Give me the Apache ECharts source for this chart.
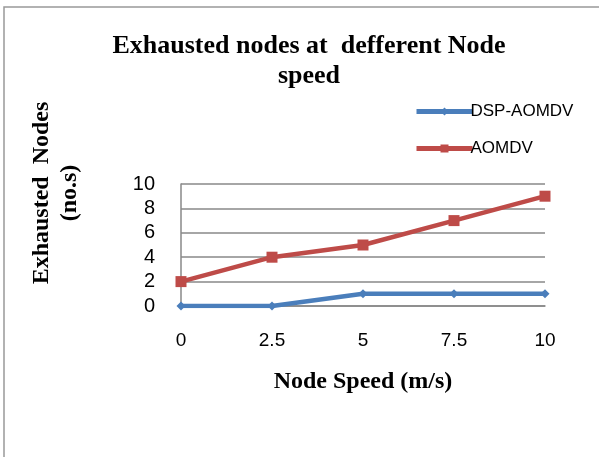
<!DOCTYPE html>
<html><head><meta charset="utf-8">
<script src="https://cdn.jsdelivr.net/npm/echarts@6/dist/echarts.min.js"></script>
<style>html,body{margin:0;padding:0;background:#fff}#c{width:599px;height:457px}</style>
</head><body><div id="c"></div>
<script>
var categories = ['0', '2.5', '5', '7.5', '10'];
var dspAomdv = [0, 0, 1, 1, 1];
var aomdv = [2, 4, 5, 7, 9];
var yTicks = [0, 2, 4, 6, 8, 10];

var chart = echarts.init(document.getElementById('c'));
chart.setOption({
  animation: false,
  backgroundColor: '#fff',
  title: {
    text: 'Exhausted nodes at  defferent Node\nspeed',
    left: 304, top: 26, textAlign: 'center',
    textStyle: {fontFamily: 'Liberation Serif', fontWeight: 'bold', fontSize: 26, lineHeight: 30, color: '#000'}
  },
  legend: {
    orient: 'vertical', left: 409, top: 98, itemWidth: 56, itemHeight: 10, itemGap: 20,
    lineStyle: {width: 5},
    textStyle: {fontFamily: 'Liberation Sans', fontSize: 17, color: '#000', padding: [0,0,0,-7]},
    data: ['DSP-AOMDV', 'AOMDV']
  },
  grid: {left: 181, right: 54, top: 184, bottom: 151},
  xAxis: {
    type: 'category', data: categories, boundaryGap: false,
    name: 'Node Speed (m/s)', nameLocation: 'middle', nameGap: 64,
    nameTextStyle: {fontFamily: 'Liberation Serif', fontWeight: 'bold', fontSize: 24, color: '#000'},
    axisLine: {lineStyle: {color: '#888', width: 1.5}},
    axisTick: {show: false},
    axisLabel: {fontFamily: 'Liberation Sans', fontSize: 19, color: '#000', margin: 25}
  },
  yAxis: {
    type: 'value', min: 0, max: 10, interval: 2,
    axisLine: {show: true, lineStyle: {color: '#888', width: 1.5}},
    axisTick: {show: false},
    splitLine: {lineStyle: {color: '#888', width: 1.5}},
    axisLabel: {fontFamily: 'Liberation Sans', fontSize: 20, color: '#000', margin: 26,
      formatter: function (v) { return yTicks.indexOf(v) >= 0 ? String(v) : ''; }}
  },
  graphic: [
    {type: 'rect', shape: {x: 4, y: 7, width: 800, height: 700}, style: {fill: 'none', stroke: '#999', lineWidth: 1.5}, silent: true},
    {type: 'text', x: 56, y: 193, rotation: Math.PI / 2,
      style: {text: 'Exhausted  Nodes\n(no.s)', fontFamily: 'Liberation Serif', fontWeight: 'bold', fontSize: 24, lineHeight: 28,
        fill: '#000', align: 'center', verticalAlign: 'middle'}}
  ],
  series: [
    {name: 'DSP-AOMDV', type: 'line', data: dspAomdv, symbol: 'diamond', symbolSize: 9,
      lineStyle: {width: 4.5, color: '#4a7ebb'}, itemStyle: {color: '#4a7ebb'}},
    {name: 'AOMDV', type: 'line', data: aomdv, symbol: 'rect', symbolSize: 11,
      lineStyle: {width: 4.5, color: '#be4b48'}, itemStyle: {color: '#be4b48'}}
  ]
});
</script></body></html>
